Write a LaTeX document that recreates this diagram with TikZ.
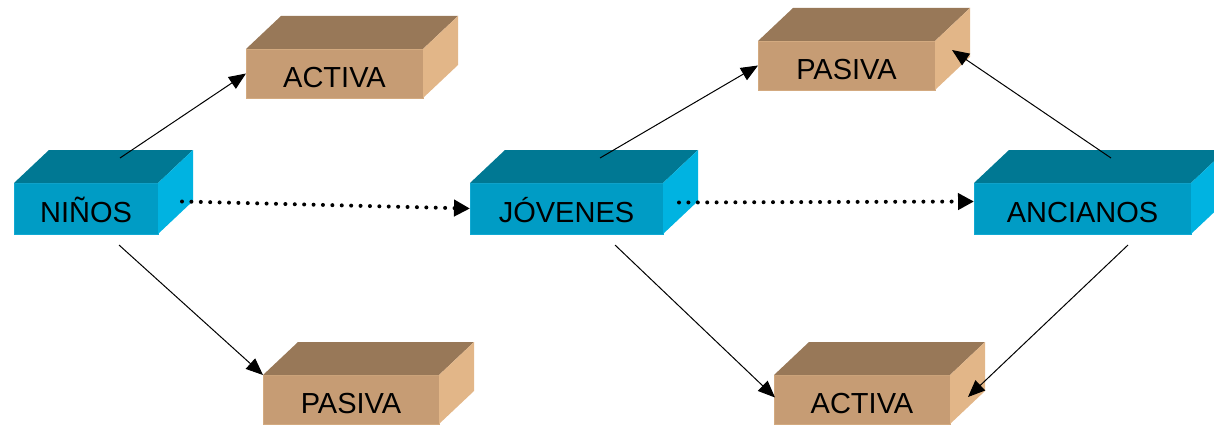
\documentclass[tikz,border=0pt]{standalone}
\usepackage{fontspec}
\setmainfont{Liberation Sans}
\usetikzlibrary{arrows.meta,calc}

\definecolor{bluefrontc}{HTML}{009CC5}
\definecolor{blueedgec}{HTML}{12A9D2}
\definecolor{bluetopc}{HTML}{007893}
\definecolor{bluesidec}{HTML}{00B3E1}
\definecolor{tanfrontc}{HTML}{C69C74}
\definecolor{tanedgec}{HTML}{D3AA80}
\definecolor{tantopc}{HTML}{987858}
\definecolor{tansidec}{HTML}{E2B688}

\tikzset{
  face/.style={inner sep=0pt, outer sep=0pt, anchor=north west,
    font=\fontsize{29}{29}\selectfont, text height=28pt, text depth=0pt},
  bluefront/.style={face, fill=bluefrontc, draw=blueedgec, line width=0.8pt},
  tanfront/.style={face, fill=tanfrontc, draw=tanedgec, line width=0.8pt},
  link/.style={line width=1pt, -{Triangle[length=17pt 0,width=14pt 0]}},
  dotlink/.style={line width=4pt, line cap=round, dash pattern=on 0pt off 9.4pt,
    -{Triangle[length=16pt 0,width=16pt 0]}},
}

% top and right faces of a box whose front face is node #1
\newcommand\boxfaces[3]{%
  \fill[#2] (#1.north west) -- ++(35,-33) -- ($(#1.north east)+(35,-33)$) -- (#1.north east) -- cycle;
  \fill[#3] (#1.north east) -- ++(35,-33) -- ($(#1.south east)+(35,-33)$) -- (#1.south east) -- cycle;
}

\begin{document}
\begin{tikzpicture}[x=1pt,y=-1pt]
  \useasboundingbox (0,0) rectangle (1214,425);
  \clip (0,0) rectangle (1214,425);

  % front faces
  \node[bluefront, minimum width=144pt, minimum height=51pt] (ninos)    at (14,183)  {NIÑOS};
  \node[bluefront, minimum width=193pt, minimum height=51pt] (jovenes)  at (470,183) {JÓVENES};
  \node[bluefront, minimum width=217pt, minimum height=51pt] (ancianos) at (974,183) {ANCIANOS};
  \node[tanfront, minimum width=177pt, minimum height=49pt] (actA) at (246,49)  {ACTIVA};
  \node[tanfront, minimum width=177pt, minimum height=49pt] (pasB) at (758,41)  {PASIVA};
  \node[tanfront, minimum width=176pt, minimum height=49pt] (pasC) at (263,375) {PASIVA};
  \node[tanfront, minimum width=176pt, minimum height=49pt] (actD) at (774,375) {ACTIVA};

  % depth faces
  \boxfaces{ninos}{bluetopc}{bluesidec}
  \boxfaces{jovenes}{bluetopc}{bluesidec}
  \boxfaces{ancianos}{bluetopc}{bluesidec}
  \boxfaces{actA}{tantopc}{tansidec}
  \boxfaces{pasB}{tantopc}{tansidec}
  \boxfaces{pasC}{tantopc}{tansidec}
  \boxfaces{actD}{tantopc}{tansidec}

  % connector ends
  \coordinate (nUp)   at ($(ninos.north west)+(106,-25)$);
  \coordinate (nDown) at ($(ninos.south west)+(105,11)$);
  \coordinate (nDot)  at ($(ninos.east)+(24,-7)$);
  \coordinate (jUp)   at ($(jovenes.north west)+(130,-25)$);
  \coordinate (jDown) at ($(jovenes.south west)+(145,11)$);
  \coordinate (jDot)  at ($(jovenes.east)+(16,-6)$);
  \coordinate (aUp)   at ($(ancianos.north west)+(137,-25)$);
  \coordinate (aDown) at ($(ancianos.south west)+(154,11)$);
  \coordinate (aIn)   at ($(ancianos.west)+(0,-7)$);
  \coordinate (pBside) at ($(pasB.north east)+(17,9)$);
  \coordinate (aDside) at ($(actD.south east)+(18,-27)$);

  % connectors
  \draw[link] (nUp) -- (actA.west);
  \draw[link] (nDown) -- (pasC.north west);
  \draw[link] (jUp) -- (pasB.west);
  \draw[link] (jDown) -- ($(actD.west)+(1,-2)$);
  \draw[link] (aUp) -- (pBside);
  \draw[link] (aDown) -- (aDside);
  \draw[dotlink] (nDot) -- (jovenes.west);
  \draw[dotlink] (jDot) -- (aIn);
\end{tikzpicture}
\end{document}
